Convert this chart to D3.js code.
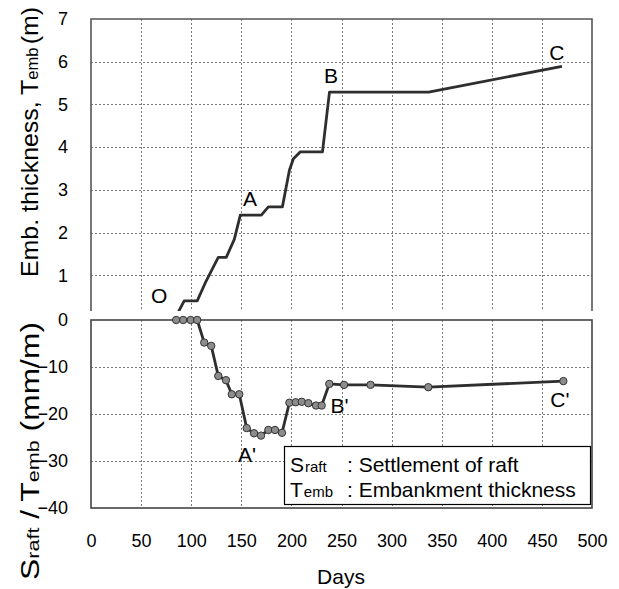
<!DOCTYPE html>
<html>
<head>
<meta charset="utf-8">
<script src="https://cdn.jsdelivr.net/npm/d3@7/dist/d3.min.js"></script>
<style>
body { margin: 0; background: #fff; }
svg { font-family: "Liberation Sans", Arial, sans-serif; }
</style>
</head>
<body>
<svg id="chart" width="619" height="589"></svg>
<script>
// embankment thickness Temb (m) vs days - upper panel
var embDays  = [84, 93, 106, 114, 127, 135, 143, 149, 170, 177, 191, 198, 202, 209, 231, 238, 337, 470];
var embThick = [0, 0.4, 0.4, 0.82, 1.42, 1.42, 1.84, 2.41, 2.41, 2.6, 2.6, 3.46, 3.73, 3.89, 3.89, 5.29, 5.29, 5.89];

// Sraft / Temb (mm/m) vs days - lower panel
var setDays  = [85, 92, 99.5, 106, 113, 120, 127, 134.7, 140.5, 148, 155.4, 162.7, 169.7, 177, 183.6, 190.6,
                198, 204.3, 210.3, 216.9, 224.6, 230.2, 237.8, 252.5, 279, 336.6, 471.4];
var setRatio = [0, 0, 0, 0, -4.8, -5.5, -11.9, -12.8, -15.8, -15.8, -23.0, -24.1, -24.6, -23.4, -23.4, -24.0,
                -17.6, -17.5, -17.4, -17.7, -18.2, -18.2, -13.6, -13.8, -13.8, -14.3, -13.0];

// tick labels
var dayTicks = [0, 50, 100, 150, 200, 250, 300, 350, 400, 450, 500];
var embTicks = [1, 2, 3, 4, 5, 6, 7];
var setTicks = [0, -10, -20, -30, -40];

// point labels (day, value)
var embLabels = [{t: "O", d: 68, v: 0.35}, {t: "A", d: 158.7, v: 2.62}, {t: "B", d: 239.5, v: 5.5}, {t: "C", d: 465, v: 6.04}];
var setLabels = [{t: "A'", d: 155.7, v: -30.2}, {t: "B'", d: 248, v: -19.8}, {t: "C'", d: 468, v: -18.5}];

var svg = d3.select("#chart");

var x = d3.scaleLinear().domain([0, 500]).range([91, 592]);
var yTop = d3.scaleLinear().domain([0, 7]).range([318, 19]);
var yBot = d3.scaleLinear().domain([-40, 0]).range([508, 320]);

var topCut = 311;
var gridColor = "#7a7a7a";
// snap 1px lines onto pixel centres
function px(v) { return Math.round(v) + 0.5; }

// ---------- upper panel ----------
svg.append("clipPath").attr("id", "clipTop")
  .append("rect").attr("x", 91).attr("y", 19).attr("width", 501).attr("height", topCut - 19);

var gTop = svg.append("g");

gTop.selectAll(".vgT")
    .data(dayTicks.slice(1, -1))
  .enter().append("line")
    .attr("x1", function(d) { return px(x(d)); })
    .attr("x2", function(d) { return px(x(d)); })
    .attr("y1", yTop(7))
    .attr("y2", topCut)
    .attr("stroke", gridColor)
    .attr("stroke-dasharray", "2,2");

gTop.selectAll(".hgT")
    .data(embTicks.slice(0, -1))
  .enter().append("line")
    .attr("x1", x(0))
    .attr("x2", x(500))
    .attr("y1", function(d) { return px(yTop(d)); })
    .attr("y2", function(d) { return px(yTop(d)); })
    .attr("stroke", gridColor)
    .attr("stroke-dasharray", "2,2");

// frame: left, top, right
gTop.append("path")
    .attr("d", "M" + x(0) + "," + topCut + "V" + yTop(7) + "H" + x(500) + "V" + topCut)
    .attr("fill", "none")
    .attr("stroke", "#555")
    .attr("stroke-width", 1.6);

var lineTop = d3.line()
    .x(function(d, i) { return x(embDays[i]); })
    .y(function(d) { return yTop(d); });

gTop.append("path")
    .datum(embThick)
    .attr("clip-path", "url(#clipTop)")
    .attr("d", lineTop)
    .attr("fill", "none")
    .attr("stroke", "#2e2e2e")
    .attr("stroke-width", 2.8)
    .attr("stroke-linejoin", "round");

// y axis labels
gTop.append("g")
    .attr("transform", "translate(68,0)")
    .call(d3.axisLeft(yTop).tickValues(embTicks).tickFormat(d3.format("d")).tickSize(0).tickPadding(0))
    .call(function(g) { g.select(".domain").remove(); })
    .selectAll("text")
    .attr("font-size", 18)
    .attr("font-family", "Liberation Sans, Arial, sans-serif")
    .attr("fill", "#000");

gTop.selectAll(".lblT")
    .data(embLabels)
  .enter().append("text")
    .attr("x", function(d) { return x(d.d); })
    .attr("y", function(d) { return yTop(d.v); })
    .attr("text-anchor", "middle")
    .attr("font-size", 21)
    .text(function(d) { return d.t; });

// ---------- lower panel ----------
var gBot = svg.append("g");

gBot.selectAll(".vgB")
    .data(dayTicks.slice(1, -1))
  .enter().append("line")
    .attr("x1", function(d) { return px(x(d)); })
    .attr("x2", function(d) { return px(x(d)); })
    .attr("y1", yBot(0))
    .attr("y2", yBot(-40))
    .attr("stroke", gridColor)
    .attr("stroke-dasharray", "2,2");

gBot.selectAll(".hgB")
    .data(setTicks.slice(1, -1))
  .enter().append("line")
    .attr("x1", x(0))
    .attr("x2", x(500))
    .attr("y1", function(d) { return px(yBot(d)); })
    .attr("y2", function(d) { return px(yBot(d)); })
    .attr("stroke", gridColor)
    .attr("stroke-dasharray", "2,2");

gBot.append("rect")
    .attr("x", x(0))
    .attr("y", yBot(0))
    .attr("width", x(500) - x(0))
    .attr("height", yBot(-40) - yBot(0))
    .attr("fill", "none")
    .attr("stroke", "#444")
    .attr("stroke-width", 1.6);

// legend box
var leg = gBot.append("g");
leg.append("rect")
    .attr("x", 284.5).attr("y", 446.5)
    .attr("width", 306).attr("height", 58)
    .attr("fill", "#fff")
    .attr("stroke", "#000")
    .attr("stroke-width", 1.2);

var r1 = leg.append("text").attr("x", 290).attr("y", 472).attr("font-size", 21);
r1.append("tspan").text("S");
r1.append("tspan").attr("font-size", 15).attr("dx", 1).text("raft");
leg.append("text").attr("x", 347).attr("y", 472).attr("font-size", 21).text(": Settlement of raft");

var r2 = leg.append("text").attr("x", 290).attr("y", 497).attr("font-size", 21);
r2.append("tspan").text("T");
r2.append("tspan").attr("font-size", 15).attr("dx", 1).text("emb");
leg.append("text").attr("x", 347).attr("y", 497).attr("font-size", 21).text(": Embankment thickness");

var lineBot = d3.line()
    .x(function(d, i) { return x(setDays[i]); })
    .y(function(d) { return yBot(d); });

gBot.append("path")
    .datum(setRatio)
    .attr("d", lineBot)
    .attr("fill", "none")
    .attr("stroke", "#2e2e2e")
    .attr("stroke-width", 2.8)
    .attr("stroke-linejoin", "round");

gBot.selectAll(".pt")
    .data(setRatio)
  .enter().append("circle")
    .attr("cx", function(d, i) { return x(setDays[i]); })
    .attr("cy", function(d) { return yBot(d); })
    .attr("r", 3.7)
    .attr("fill", "#8c8c8c")
    .attr("stroke", "#333")
    .attr("stroke-width", 1);

gBot.append("g")
    .attr("transform", "translate(68,0)")
    .call(d3.axisLeft(yBot).tickValues(setTicks).tickSize(0).tickPadding(0))
    .call(function(g) { g.select(".domain").remove(); })
    .selectAll("text")
    .attr("font-size", 18)
    .attr("font-family", "Liberation Sans, Arial, sans-serif")
    .attr("fill", "#000");

gBot.append("g")
    .attr("transform", "translate(0," + (yBot(-40) + 26) + ")")
    .call(d3.axisBottom(x).tickValues(dayTicks).tickSize(0).tickPadding(0))
    .call(function(g) { g.select(".domain").remove(); })
    .selectAll("text")
    .attr("font-size", 18)
    .attr("font-family", "Liberation Sans, Arial, sans-serif")
    .attr("fill", "#000");

gBot.selectAll(".lblB")
    .data(setLabels)
  .enter().append("text")
    .attr("x", function(d) { return x(d.d); })
    .attr("y", function(d) { return yBot(d.v); })
    .attr("text-anchor", "middle")
    .attr("font-size", 21)
    .text(function(d) { return d.t; });

// ---------- axis titles ----------
svg.append("text")
    .attr("x", 341)
    .attr("y", 584)
    .attr("text-anchor", "middle")
    .attr("font-size", 21)
    .text("Days");

var t1 = svg.append("text")
    .attr("transform", "translate(38,142) rotate(-90)")
    .attr("text-anchor", "middle")
    .attr("font-size", 24)
    .attr("textLength", 270)
    .attr("lengthAdjust", "spacingAndGlyphs");
t1.append("tspan").text("Emb. thickness, T");
t1.append("tspan").attr("font-size", 16).text("emb");
t1.append("tspan").attr("dx", 3).text("(m)");

var t2 = svg.append("text")
    .attr("transform", "translate(39,451) rotate(-90)")
    .attr("text-anchor", "middle")
    .attr("font-size", 25)
    .attr("textLength", 258)
    .attr("lengthAdjust", "spacingAndGlyphs");
t2.append("tspan").text("S");
t2.append("tspan").attr("font-size", 17).text("raft");
t2.append("tspan").text(" / T");
t2.append("tspan").attr("font-size", 17).text("emb");
t2.append("tspan").text(" (mm/m)");
</script>
</body>
</html>
